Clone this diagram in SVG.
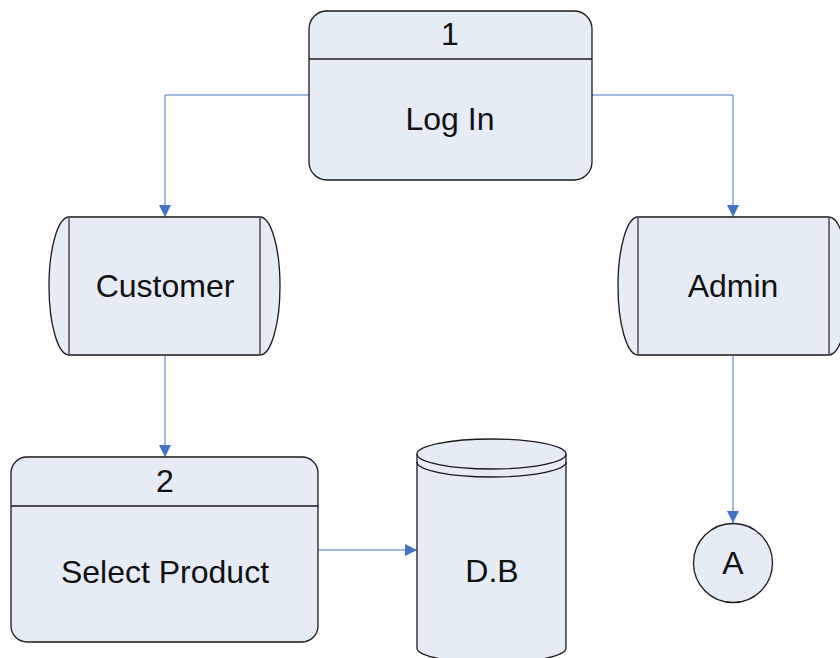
<svg xmlns="http://www.w3.org/2000/svg" width="840" height="658" viewBox="0 0 840 658">
  <style>
    .shape { fill: #E6ECF6; stroke: #1a1a1a; stroke-width: 1.3; }
    .inner { fill: none; stroke: #555; stroke-width: 1.6; }
    .label { font-family: "Liberation Sans", Arial, sans-serif; font-size: 32px; fill: #111; text-anchor: middle; }
    .flow { fill: none; stroke: #4472C4; stroke-width: 1; }
  </style>
  <defs>
    <marker id="arrow" viewBox="0 0 12 12" refX="12" refY="6" markerWidth="12" markerHeight="12" markerUnits="userSpaceOnUse" orient="auto">
      <path d="M0,0 L12,6 L0,12 Z" fill="#4472C4"/>
    </marker>
  </defs>
  <rect width="840" height="658" fill="#ffffff"/>

  <g id="connectors">
    <path class="flow" d="M309,95 H165 V217" marker-end="url(#arrow)"/>
    <path class="flow" d="M592,95 H733 V217" marker-end="url(#arrow)"/>
    <path class="flow" d="M165,355 V457" marker-end="url(#arrow)"/>
    <path class="flow" d="M733,355 V523" marker-end="url(#arrow)"/>
    <path class="flow" d="M318,550 H417" marker-end="url(#arrow)"/>
  </g>

  <g id="login">
    <rect class="shape" x="309" y="11" width="283" height="169" rx="18" ry="18"/>
    <line class="shape" x1="309" y1="59" x2="592" y2="59"/>
    <text class="label" x="450" y="45">1</text>
    <text class="label" x="450" y="130">Log In</text>
  </g>

  <g id="customer">
    <path class="shape" d="M69,217 H260 A20,69 0 0 1 260,355 H69 A20,69 0 0 1 69,217 Z"/>
    <line class="inner" x1="69" y1="217" x2="69" y2="355"/>
    <line class="inner" x1="260" y1="217" x2="260" y2="355"/>
    <text class="label" x="165" y="297">Customer</text>
  </g>

  <g id="admin">
    <path class="shape" d="M638,217 H829 A20,69 0 0 1 829,355 H638 A20,69 0 0 1 638,217 Z"/>
    <line class="inner" x1="638" y1="217" x2="638" y2="355"/>
    <line class="inner" x1="829" y1="217" x2="829" y2="355"/>
    <text class="label" x="733" y="297">Admin</text>
  </g>

  <g id="select-product">
    <rect class="shape" x="11" y="457" width="307" height="185" rx="16" ry="16"/>
    <line class="shape" x1="11" y1="506" x2="318" y2="506"/>
    <text class="label" x="165" y="492">2</text>
    <text class="label" x="165" y="583">Select Product</text>
  </g>

  <g id="database">
    <path class="shape" d="M417,454 A74.5,15 0 0 1 566,454 V648 A74.5,15 0 0 1 417,648 Z"/>
    <path class="shape" d="M417,454 A74.5,15 0 0 0 566,454"/>
    <path class="shape" fill="none" style="fill:none" d="M417,462 A74.5,15 0 0 0 566,462"/>
    <text class="label" x="492" y="582">D.B</text>
  </g>

  <g id="connector-a">
    <circle class="shape" cx="733" cy="563" r="39.5"/>
    <text class="label" x="733" y="574">A</text>
  </g>
</svg>
